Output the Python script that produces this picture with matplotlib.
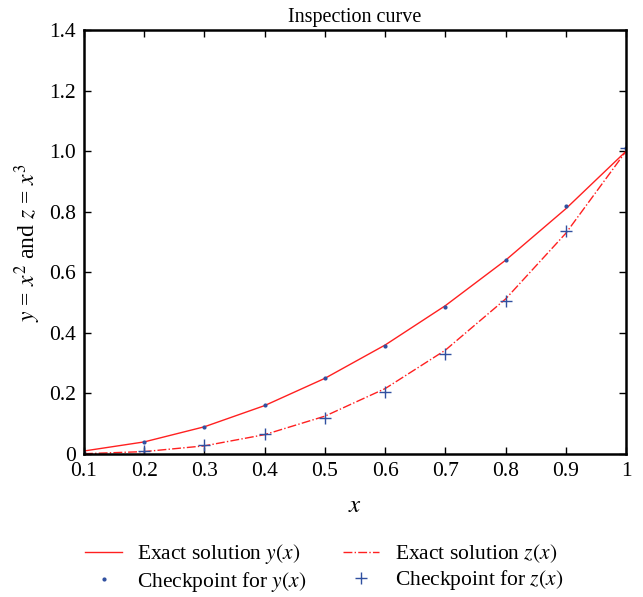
import numpy as np
import matplotlib
matplotlib.use("Agg")
import matplotlib.pyplot as plt

plt.rcParams['font.family'] = ['Liberation Serif', 'DejaVu Serif']
plt.rcParams['mathtext.fontset'] = 'stix'

# data
x = [0.1, 0.2, 0.3, 0.4, 0.5, 0.6, 0.7, 0.8, 0.9, 1.0]
y_exact = [0.01, 0.04, 0.09, 0.16, 0.25, 0.36, 0.49, 0.64, 0.81, 1.0]
z_exact = [0.001, 0.008, 0.027, 0.064, 0.125, 0.216, 0.343, 0.512, 0.729, 1.0]
y_check = [0.005, 0.04, 0.09, 0.163, 0.25, 0.358, 0.485, 0.64, 0.82, 1.01]
z_check = [0.0, 0.01, 0.03, 0.065, 0.12, 0.205, 0.33, 0.505, 0.735, 1.01]

xticks = [0.1, 0.2, 0.3, 0.4, 0.5, 0.6, 0.7, 0.8, 0.9, 1.0]
xticklabels = ["0.1", "0.2", "0.3", "0.4", "0.5", "0.6", "0.7", "0.8", "0.9", "1"]
yticks = [0, 0.2, 0.4, 0.6, 0.8, 1.0, 1.2, 1.4]
yticklabels = ["0", "0.2", "0.4", "0.6", "0.8", "1.0", "1.2", "1.4"]

fig = plt.figure(figsize=(6.43, 5.97), dpi=100)
ax = fig.add_axes([0.1306, 0.2395, 0.843, 0.710])

ax.plot(x, y_exact, '-', color='#ff2020', lw=1.0, label=r'Exact solution $y(x)$')
ax.plot(x, y_check, '.', color='#3050a0', ms=4, label=r'Checkpoint for $y(x)$')
ax.plot(x, z_exact, '-.', color='#ff2020', lw=1.0, label=r'Exact solution $z(x)$')
ax.plot(x, z_check, '+', color='#3050a0', ms=9, mew=1.0, label=r'Checkpoint for $z(x)$')

ax.set_xlim(0.1, 1.0)
ax.set_ylim(0, 1.4)
ax.set_xticks(xticks)
ax.set_xticklabels(xticklabels)
ax.set_yticks(yticks)
ax.set_yticklabels(yticklabels)
ax.tick_params(direction='in', top=True, right=True, labelsize=15.5, length=5, width=1, pad=6)
for s in ax.spines.values():
    s.set_linewidth(1.8)

ax.set_title("Inspection curve", fontsize=14.5, pad=6)
ax.set_xlabel(r"$x$", fontsize=18, labelpad=10)
ax.set_ylabel(r"$y$ = $x^2$ and $z$ = $x^3$", fontsize=17, labelpad=4)

fig.legend(*ax.get_legend_handles_labels(), loc='upper left',
           bbox_to_anchor=(81 / 643, 1 - 538 / 597), ncol=2, frameon=False,
           fontsize=15.5, handlelength=1.7, handletextpad=0.7,
           columnspacing=1.7, labelspacing=0.15, borderpad=0.2, borderaxespad=0)

fig.savefig("out.png", dpi=100)
